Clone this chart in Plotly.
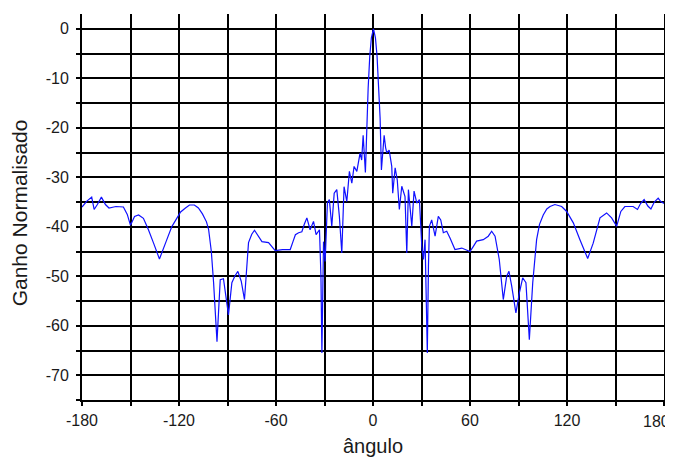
import plotly.graph_objects as go

# Radiation pattern (angle in degrees, normalised gain in dB)
angle_deg = [
    -180, -177, -174, -172.5, -170.5, -168, -165.5, -163.3, -159, -154.4,
    -152, -150, -147.5, -145, -142, -138.9, -135.5, -132.1, -128, -124.5,
    -122.5, -119, -116, -113.5, -110.5, -108, -105.5, -103, -101.7, -100,
    -98.6, -96.5, -94.5, -92.5, -89.4, -87.3, -85.5, -83.6, -81.5, -79.5,
    -77, -75, -73.3, -71, -68.7, -64.6, -62.5, -60.5, -56, -51.2,
    -49.5, -48, -46, -44, -42.5, -40.9, -38.9, -36.8, -35.2, -33.1,
    -32.2, -31.6, -30.6, -29.6, -28.2, -27, -25.5, -24, -22.4, -20.8,
    -19.3, -17.9, -16.2, -14.6, -13.1, -11.7, -10, -8, -7, -6.1,
    -4.7, -3.8, -3, -2, -1, 0.3, 1.5, 2.5, 3.5, 4.4,
    5.2, 6.9, 7.8, 8.5, 10, 11.6, 12.2, 13.7, 15, 16.3,
    17.8, 19.8, 20.9, 21.9, 24, 25.4, 27.1, 28.7, 30.2, 31.2,
    32.2, 33.6, 34.3, 34.9, 36.3, 38.4, 40.4, 41.9, 43.5, 45.6,
    47.7, 50.7, 54.9, 60, 62, 64.1, 68.2, 71.3, 73.4, 75.5,
    78.1, 80.6, 82.7, 84.1, 85.8, 88.4, 90.5, 92.6, 94.6, 96.7,
    98.8, 101.2, 103, 105.3, 107.5, 109.5, 112.5, 116.7, 119.8, 123.9,
    128, 132.8, 136.2, 140.4, 144.5, 147.6, 150.7, 153.3, 155.8, 160.9,
    163.6, 165.5, 167.7, 170, 171.9, 174, 176.4, 178, 180,
]
gain_db = [
    -36, -34.8, -34, -36.5, -35.5, -34, -35.5, -36.2, -35.9, -36,
    -37.5, -39.7, -37.9, -37.6, -38.3, -40.6, -43.5, -46.5, -43, -40,
    -38.9, -37, -36.2, -35.6, -35.6, -36.2, -37.4, -39, -40.5, -45,
    -51.3, -63.2, -50.7, -50.5, -57.8, -51.3, -50, -49, -51, -54.7,
    -43.2, -41.5, -40.7, -42, -43, -43.2, -44, -44.8, -44.6, -44.6,
    -43, -41.6, -41.2, -41, -39.5, -38.2, -40.6, -38.9, -41.6, -40.6,
    -50, -65.5, -43, -47, -35.2, -34.5, -39.9, -33.2, -32.5, -37.9,
    -45.3, -31.9, -34.9, -28.8, -31.2, -27.8, -28.8, -25.1, -26.5, -21.5,
    -29, -18, -12, -5.5, -1.8, 0, -1.8, -5.5, -12, -18,
    -28.5, -21.5, -24, -25, -24.5, -27.8, -33.2, -28.1, -30.5, -36.5,
    -31.8, -33.9, -45.3, -32.5, -39.9, -32.8, -35.2, -34.5, -44, -46.6,
    -42.6, -65.5, -48, -39.9, -38.6, -41.9, -37.9, -38.6, -41.2, -40.9,
    -42.3, -44.6, -44.3, -45, -44, -42.9, -42.6, -41.9, -40.9, -41.9,
    -46.6, -54.7, -50, -49, -52, -57.4, -53.4, -50.3, -51.3, -62.8,
    -51.3, -42.6, -39.5, -37.6, -36.4, -35.9, -35.5, -35.9, -36.9, -39.2,
    -42.6, -46.4, -43.3, -38.2, -37.2, -38.2, -39.9, -36.9, -35.9, -35.9,
    -36.5, -35.3, -34.5, -35.8, -36.4, -35, -34.2, -34.9, -35.3,
]

x_tick_vals = [-180, -120, -60, 0, 60, 120, 180]
x_tick_text = ["-180", "-120", "-60", "0", "60", "120", "180"]
y_tick_vals = [0, -10, -20, -30, -40, -50, -60, -70]
y_tick_text = ["0", "-10", "-20", "-30", "-40", "-50", "-60", "-70"]

x_title = "ângulo"
y_title = "Ganho Normalisado"

font_family = "Liberation Sans, Arial, sans-serif"
text_color = "#1a1a1a"

# The last x tick label sits at the page edge; draw it as an annotation nudged inward
last_x_val = x_tick_vals[-1]
last_x_text = x_tick_text[-1]
axis_tick_text = x_tick_text[:-1] + [""]

fig = go.Figure(
    go.Scatter(
        x=angle_deg, y=gain_db, mode="lines",
        line=dict(color="#1010ff", width=1.2),
    )
)

# The page body adds an 8px offset, so the figure is 8px smaller than the window
fig.update_layout(
    width=665, height=451,
    margin=dict(l=74, r=9, t=6, b=59, autoexpand=False),
    plot_bgcolor="white", paper_bgcolor="white",
    showlegend=False,
    font=dict(family=font_family, color=text_color, size=16),
    annotations=[
        dict(text=x_title, xref="paper", yref="paper", x=0.5, y=-0.118,
             xanchor="center", yanchor="middle", showarrow=False,
             font=dict(size=20, family=font_family, color=text_color)),
        dict(text=y_title, xref="paper", yref="paper", x=-0.108, y=0.484,
             xanchor="center", yanchor="middle", showarrow=False, textangle=-90,
             font=dict(size=21, family=font_family, color=text_color)),
        dict(text=last_x_text, xref="x", yref="paper", x=last_x_val, y=0,
             xanchor="right", yanchor="top", yshift=-11, xshift=8,
             showarrow=False,
             font=dict(size=16, family=font_family, color=text_color)),
    ],
)

fig.update_xaxes(
    range=[-180, 180], automargin=False,
    tickmode="array", tickvals=x_tick_vals, ticktext=axis_tick_text,
    ticklabeloverflow="allow",
    showgrid=True, gridcolor="black", gridwidth=2,
    zeroline=False,
    showline=True, linecolor="black", linewidth=2,
    ticks="outside", ticklen=4, tickwidth=2, tickcolor="black",
    ticklabelstandoff=1,
    tickfont=dict(size=16, family=font_family, color=text_color),
    minor=dict(dtick=30, tick0=-180, showgrid=True, gridcolor="black", gridwidth=2,
               ticks="outside", ticklen=4, tickwidth=2, tickcolor="black"),
)

fig.update_yaxes(
    range=[-75, 3], automargin=False,
    tickmode="array", tickvals=y_tick_vals, ticktext=y_tick_text,
    ticklabeloverflow="allow",
    showgrid=True, gridcolor="black", gridwidth=2,
    zeroline=False,
    showline=True, linecolor="black", linewidth=2, mirror=True,
    ticks="outside", ticklen=4, tickwidth=2, tickcolor="black",
    ticklabelstandoff=4,
    tickfont=dict(size=16, family=font_family, color=text_color),
    minor=dict(dtick=5, tick0=0, showgrid=True, gridcolor="black", gridwidth=2,
               ticks="outside", ticklen=4, tickwidth=2, tickcolor="black"),
)

fig.write_html("out.html")
